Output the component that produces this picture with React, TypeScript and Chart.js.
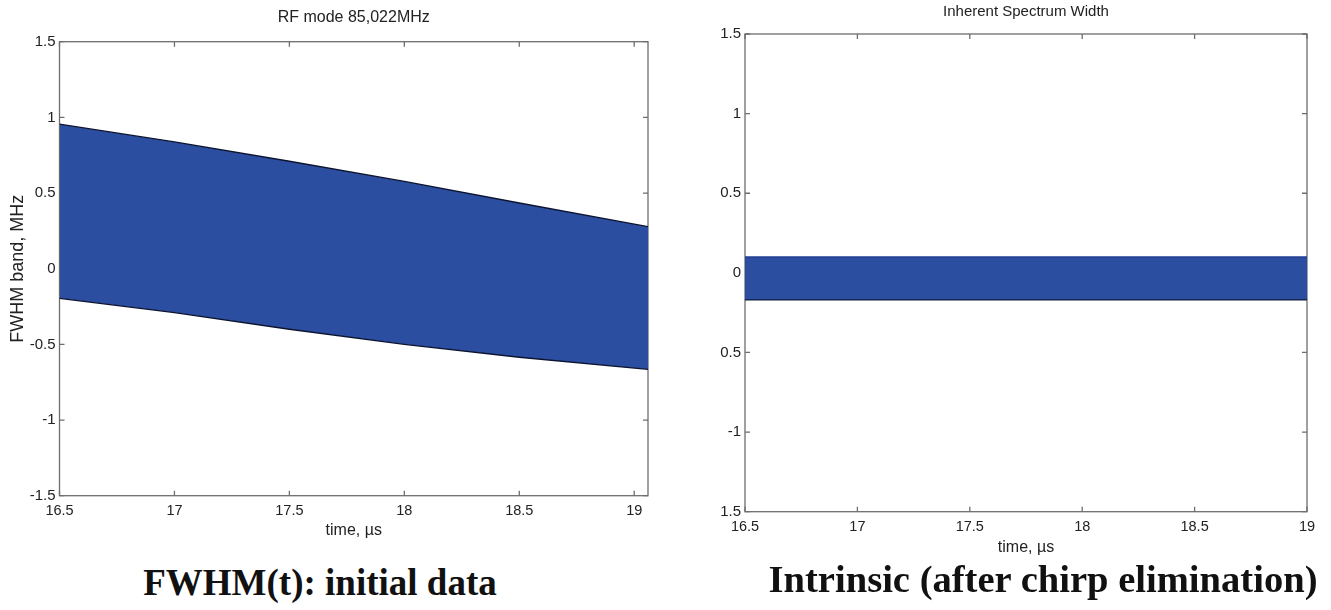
import React, { useEffect, useRef } from "react";
import { Chart, registerables } from "chart.js";

Chart.register(...registerables);

// ---- data ----
const xTickValues = [16.5, 17, 17.5, 18, 18.5, 19];
const xTickLabels = ["16.5", "17", "17.5", "18", "18.5", "19"];
const yTickValues = [-1.5, -1, -0.5, 0, 0.5, 1, 1.5];
const leftYTickLabels = ["-1.5", "-1", "-0.5", "0", "0.5", "1", "1.5"];
const rightYTickLabels = ["1.5", "-1", "0.5", "0", "0.5", "1", "1.5"];

const initialTime = [16.5, 17.0, 17.5, 18.0, 18.5, 19.06];
const initialUpper = [0.955, 0.838, 0.71, 0.577, 0.434, 0.278];
const initialLower = [-0.196, -0.29, -0.4, -0.5, -0.585, -0.665];

const intrinsicTime = [16.5, 19.0];
const intrinsicUpper = [0.1, 0.1];
const intrinsicLower = [-0.17, -0.17];

const BLUE = "#2c4ea0";
const AXIS = "#6e6e6e";
const FONT = "'Liberation Sans Narrow', 'Liberation Sans', Arial, sans-serif";

const matlabAxes = {
  id: "matlabAxes",
  beforeDatasetsDraw(chart: any) {
    const { ctx, chartArea: a, scales } = chart;
    const x = scales.x;
    const y = scales.y;
    ctx.save();
    ctx.strokeStyle = AXIS;
    ctx.lineWidth = 1.3;
    ctx.strokeRect(a.left, a.top, a.width, a.height);
    const L = 5;
    ctx.beginPath();
    x.ticks.forEach((t: any) => {
      const px = x.getPixelForValue(t.value);
      ctx.moveTo(px, a.bottom);
      ctx.lineTo(px, a.bottom - L);
      ctx.moveTo(px, a.top);
      ctx.lineTo(px, a.top + L);
    });
    y.ticks.forEach((t: any) => {
      const py = y.getPixelForValue(t.value);
      ctx.moveTo(a.left, py);
      ctx.lineTo(a.left + L, py);
      ctx.moveTo(a.right, py);
      ctx.lineTo(a.right - L, py);
    });
    ctx.stroke();
    ctx.restore();
  },
};

type PanelProps = {
  width: number;
  height: number;
  title: string;
  titleSize: number;
  titlePad: { top: number; bottom: number };
  time: number[];
  upper: number[];
  lower: number[];
  xMax: number;
  yLabels: string[];
  yTitle: string | null;
  yWidth: number;
  xHeight: number;
  padRight: number;
  xTitlePadBottom: number;
  upperBorder: string;
  lowerBorder: string;
};

function Panel(p: PanelProps) {
  const ref = useRef<HTMLCanvasElement | null>(null);
  useEffect(() => {
    if (!ref.current) return;
    const chart = new Chart(ref.current, {
      type: "line",
      data: {
        datasets: [
          {
            data: p.time.map((t, i) => ({ x: t, y: p.lower[i] })),
            borderColor: p.lowerBorder,
            borderWidth: 1.4,
            pointRadius: 0,
            fill: false,
            tension: 0,
          },
          {
            data: p.time.map((t, i) => ({ x: t, y: p.upper[i] })),
            borderColor: p.upperBorder,
            borderWidth: 1.4,
            pointRadius: 0,
            backgroundColor: BLUE,
            fill: "-1",
            tension: 0,
          },
        ],
      },
      options: {
        animation: false,
        responsive: false,
        maintainAspectRatio: false,
        devicePixelRatio: 1,
        layout: { padding: { left: 0, right: p.padRight, top: 0, bottom: 0 } },
        plugins: {
          legend: { display: false },
          tooltip: { enabled: false },
          title: {
            display: true,
            text: p.title,
            fullSize: false,
            color: "#222",
            font: { family: FONT, size: p.titleSize, weight: "normal", lineHeight: 1.2 },
            padding: p.titlePad,
          },
        },
        scales: {
          x: {
            type: "linear",
            min: 16.5,
            max: p.xMax,
            grid: { display: false, drawTicks: false },
            border: { display: false },
            afterBuildTicks: (s: any) => {
              s.ticks = xTickValues.map((v) => ({ value: v }));
            },
            afterFit: (s: any) => {
              s.height = p.xHeight;
            },
            ticks: {
              color: "#222",
              padding: 7,
              maxRotation: 0,
              autoSkip: false,
              font: { family: FONT, size: 14.5 },
              callback: (_v: any, i: number) => xTickLabels[i],
            },
            title: {
              display: true,
              text: "time, µs",
              color: "#222",
              font: { family: FONT, size: 16, lineHeight: 1.2 },
              padding: { top: 0, bottom: p.xTitlePadBottom },
            },
          },
          y: {
            type: "linear",
            min: -1.5,
            max: 1.5,
            grid: { display: false, drawTicks: false },
            border: { display: false },
            afterBuildTicks: (s: any) => {
              s.ticks = yTickValues.map((v) => ({ value: v }));
            },
            afterFit: (s: any) => {
              s.width = p.yWidth;
            },
            ticks: {
              color: "#222",
              padding: 4,
              autoSkip: false,
              font: { family: FONT, size: 15 },
              callback: (_v: any, i: number) => p.yLabels[i],
            },
            title: {
              display: !!p.yTitle,
              text: p.yTitle || "",
              color: "#222",
              font: { family: FONT, size: 18, lineHeight: 1.2 },
              padding: { top: 7, bottom: 0 },
            },
          },
        },
      },
      plugins: [matlabAxes],
    } as any);
    return () => chart.destroy();
  }, []);
  return <canvas ref={ref} width={p.width} height={p.height} style={{ display: "block" }} />;
}

const captionStyle: React.CSSProperties = {
  position: "absolute",
  fontFamily: "'Liberation Serif', 'Times New Roman', serif",
  fontWeight: "bold",
  lineHeight: "40px",
  color: "#111",
  whiteSpace: "nowrap",
  transform: "translateX(-50%)",
};

export default function App() {
  return (
    <div style={{ position: "absolute", left: 0, top: 0, width: 1331, height: 610, background: "#fff", overflow: "hidden" }}>
      <div style={{ position: "absolute", left: 0, top: 0 }}>
        <Panel
          width={665}
          height={545}
          title="RF mode 85,022MHz"
          titleSize={16}
          titlePad={{ top: 8.4, bottom: 14.1 }}
          time={initialTime}
          upper={initialUpper}
          lower={initialLower}
          xMax={19.06}
          yLabels={leftYTickLabels}
          yTitle="FWHM band, MHz"
          yWidth={59.5}
          xHeight={49.3}
          padRight={17}
          xTitlePadBottom={4.5}
          upperBorder="#0c1430"
          lowerBorder="#0c1430"
        />
      </div>
      <div style={{ position: "absolute", left: 665, top: 0 }}>
        <Panel
          width={666}
          height={560}
          title="Inherent Spectrum Width"
          titleSize={15}
          titlePad={{ top: 3, bottom: 13 }}
          time={intrinsicTime}
          upper={intrinsicUpper}
          lower={intrinsicLower}
          xMax={19}
          yLabels={rightYTickLabels}
          yTitle={null}
          yWidth={80}
          xHeight={48.3}
          padRight={24}
          xTitlePadBottom={2.5}
          upperBorder="#233f96"
          lowerBorder="#0f1a3c"
        />
      </div>
      <div style={{ ...captionStyle, fontSize: 37, left: 320, top: 563 }}>FWHM(t): initial data</div>
      <div style={{ ...captionStyle, fontSize: 38.6, left: 1043, top: 559 }}>Intrinsic (after chirp elimination)</div>
    </div>
  );
}
